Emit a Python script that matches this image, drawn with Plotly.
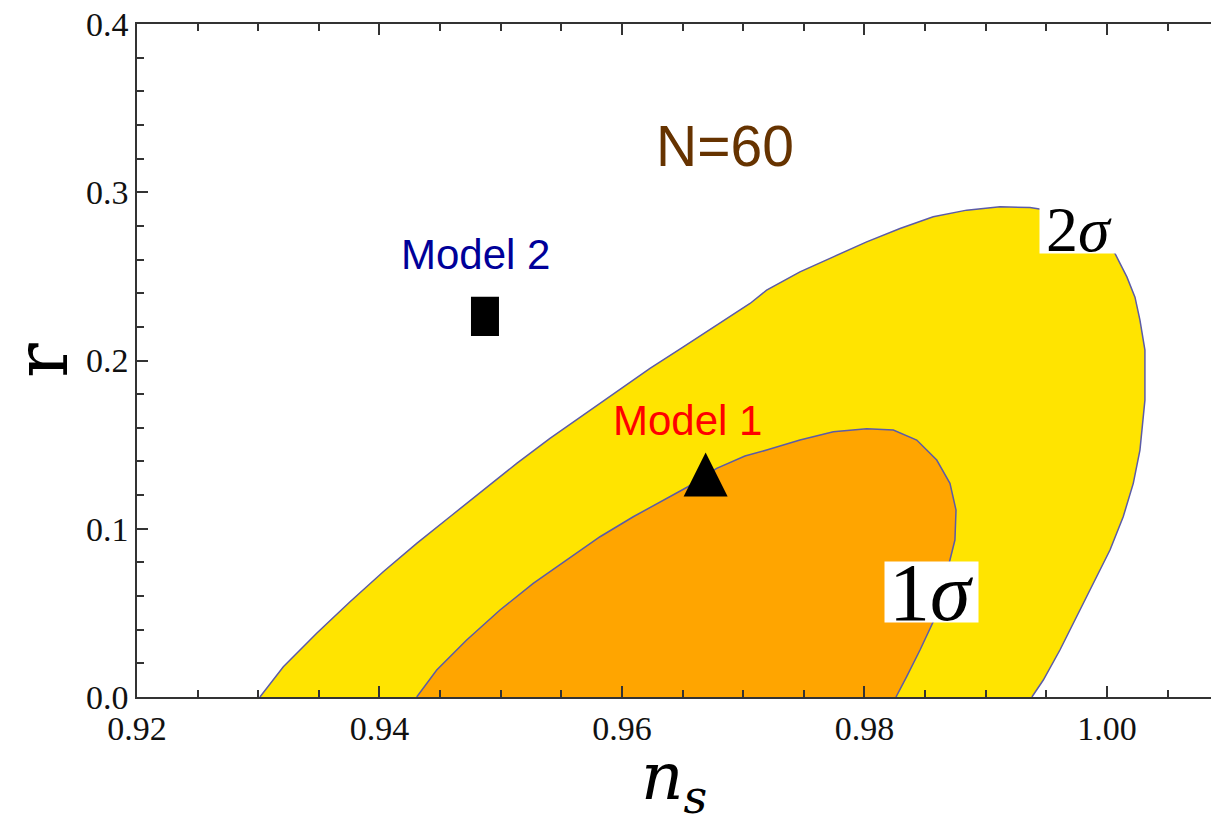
import plotly.graph_objects as go

# 2-sigma contour boundary (n_s, r)
ns_2sigma = [0.93014, 0.93207, 0.93482, 0.93757, 0.94031, 0.94307, 0.94581, 0.94856,
             0.95132, 0.95406, 0.95681, 0.95956, 0.96231, 0.96506, 0.96781, 0.97056,
             0.97193, 0.97468, 0.97743, 0.98018, 0.98293, 0.98567, 0.98843, 0.99118,
             0.99365, 0.99612, 0.99860, 1.00066, 1.00165, 1.00231, 1.00272, 1.00313,
             1.00313, 1.00272, 1.00217, 1.00134, 1.00025, 0.99887, 0.99750, 0.99612,
             0.99475, 0.99381]
r_2sigma = [0.0, 0.0180, 0.03785, 0.05663, 0.07445, 0.09133, 0.10713, 0.12300,
            0.13886, 0.15371, 0.16756, 0.18140, 0.19531, 0.20814, 0.22103, 0.23390,
            0.24183, 0.25270, 0.26162, 0.27053, 0.27849, 0.28538, 0.28937, 0.29133,
            0.29097, 0.28818, 0.27748, 0.26364, 0.24955, 0.23767, 0.22400, 0.20618,
            0.17647, 0.14676, 0.12698, 0.10713, 0.08734, 0.06756, 0.04771, 0.02793,
            0.01010, 0.0]

# 1-sigma contour boundary (n_s, r)
ns_1sigma = [0.94307, 0.94472, 0.94719, 0.94994, 0.95268, 0.95544, 0.95819, 0.96093,
             0.96369, 0.96544, 0.96781, 0.97014, 0.97193, 0.97468, 0.97743, 0.98018,
             0.98238, 0.98431, 0.98596, 0.98705, 0.98755, 0.98746, 0.98691, 0.98623,
             0.98567, 0.98458, 0.98348, 0.98260]
r_1sigma = [0.0, 0.01604, 0.03387, 0.05169, 0.06756, 0.08140, 0.09525, 0.10713,
            0.11806, 0.12496, 0.13589, 0.14320, 0.14676, 0.15270, 0.15764, 0.15942,
            0.15865, 0.15270, 0.14082, 0.12698, 0.11111, 0.09329, 0.07742, 0.06061,
            0.04474, 0.02793, 0.01206, 0.0]

# Model predictions
model_names = ["Model 1", "Model 2"]
model_ns = [0.9669, 0.9487]
model_r = [0.1323, 0.2262]

# Label positions
label_ns = [0.96540, 0.94794]
label_r = [0.1646, 0.2628]

x_tick_vals = [0.92, 0.94, 0.96, 0.98, 1.00]
y_tick_vals = [0.0, 0.1, 0.2, 0.3, 0.4]

edge_col = "#5b5ba8"

fig = go.Figure()
fig.add_trace(go.Scatter(x=ns_2sigma, y=r_2sigma, mode="lines", fill="toself",
                         fillcolor="#ffe400", line=dict(color=edge_col, width=1.5),
                         hoverinfo="skip", showlegend=False, name="2σ"))
fig.add_trace(go.Scatter(x=ns_1sigma, y=r_1sigma, mode="lines", fill="toself",
                         fillcolor="#ffa500", line=dict(color=edge_col, width=1.5),
                         hoverinfo="skip", showlegend=False, name="1σ"))
# Model 1 : triangle (centred on the point)
fig.add_trace(go.Scatter(x=[model_ns[0]], y=[model_r[0]], mode="markers",
                         marker=dict(symbol="arrow-down", angle=180, size=44, color="black",
                                     standoff=22, line=dict(width=0)),
                         showlegend=False, name=model_names[0]))
# Model 2 : filled rectangle (thick vertical line marker)
fig.add_trace(go.Scatter(x=[model_ns[1]], y=[model_r[1]], mode="markers",
                         marker=dict(symbol="line-ns", size=28, color="black",
                                     line=dict(width=28, color="black")),
                         showlegend=False, name=model_names[1]))

annotations = [
    dict(x=label_ns[0], y=label_r[0], text=model_names[0], showarrow=False,
         font=dict(family="Liberation Sans", size=42, color="#ff0000")),
    dict(x=label_ns[1], y=label_r[1], text=model_names[1], showarrow=False,
         font=dict(family="Liberation Sans", size=42, color="#000099")),
    dict(x=0.96847, y=0.3277, text="N=60", showarrow=False,
         font=dict(family="Liberation Sans", size=57, color="#663300")),
    dict(x=0.99769, y=0.2781, text="2<i>σ</i>", showarrow=False,
         font=dict(family="Liberation Serif", size=64, color="black"),
         bgcolor="white", borderpad=0, width=78, height=48),
    dict(x=0.98553, y=0.0624, text="1<i>σ</i>", showarrow=False,
         font=dict(family="Liberation Serif", size=82, color="black"),
         bgcolor="white", borderpad=0, width=93, height=60),
]

axis_common = dict(
    showgrid=False, zeroline=False, showline=True, linecolor="#333333", linewidth=1.5,
    ticks="inside", tickcolor="#333333", tickwidth=1.5, ticklen=11, automargin=True,
    tickfont=dict(family="Liberation Serif", size=34, color="#111111"),
)

fig.update_layout(
    width=1211, height=824,
    margin=dict(l=137, r=0, t=24, b=127),
    paper_bgcolor="white", plot_bgcolor="white",
    annotations=annotations,
    xaxis=dict(range=[0.92, 1.00858], tickvals=x_tick_vals, tickformat=".2f",
               mirror="ticks",
               minor=dict(ticks="inside", dtick=0.005, ticklen=7, tickcolor="#333333", tickwidth=1.5),
               title=dict(text="<i>n<sub>s</sub></i>", standoff=4,
                          font=dict(family="DejaVu Serif", size=66, color="black")),
               **axis_common),
    yaxis=dict(range=[0, 0.4], tickvals=y_tick_vals, tickformat=".1f",
               minor=dict(ticks="inside", dtick=0.02, ticklen=7, tickcolor="#333333", tickwidth=1.5),
               title=dict(text="r", standoff=22,
                          font=dict(family="DejaVu Serif", size=72, color="black")),
               **axis_common),
)

fig.write_html("out.html")
